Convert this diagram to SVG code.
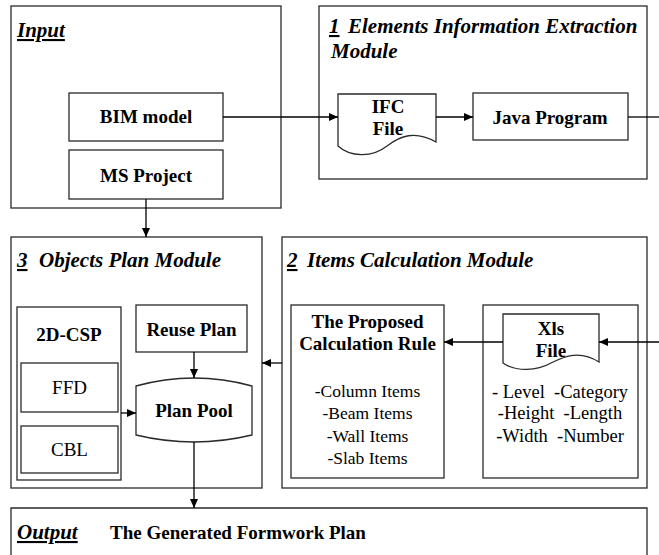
<svg xmlns="http://www.w3.org/2000/svg" width="659" height="555" viewBox="0 0 659 555">
<defs>
<style>
.box{fill:#fff;stroke:#2a2a2a;stroke-width:1.3}
.ln{fill:none;stroke:#000;stroke-width:1.3}
text{fill:#000}
.title{font-size:21px;font-weight:bold;font-style:italic}
.num{text-decoration:underline}
.b{font-size:19px;font-weight:bold;text-anchor:middle}
.r{font-size:17.5px;text-anchor:middle}
.rl{font-size:19px;text-anchor:middle}
.rx{font-size:18.5px;text-anchor:middle}
</style>
<marker id="arr" markerWidth="10" markerHeight="10" refX="9" refY="4" orient="auto" markerUnits="userSpaceOnUse"><path d="M0,0 L9,4 L0,8 z" fill="#000"/></marker>
</defs>
<rect width="659" height="555" fill="#fff"/>
<g font-family="Liberation Serif, DejaVu Serif, serif">
<g id="input">
<rect class="box" x="11" y="6" width="270" height="202"/>
<text class="title num" x="17" y="37">Input</text>
</g>
<g id="bim-model">
<rect class="box" x="69" y="93" width="154" height="48"/>
<text class="b" x="146" y="123">BIM model</text>
</g>
<g id="ms-project">
<rect class="box" x="69" y="150" width="154" height="49"/>
<text class="b" x="146" y="182">MS Project</text>
</g>

<g id="module1">
<rect class="box" x="319" y="6" width="328" height="173"/>
<text class="title num" x="329" y="33">1</text>
<text class="title" x="348" y="33">Elements Information Extraction</text>
<text class="title" x="331" y="58">Module</text>
</g>
<g id="ifc-file">
<path class="box" d="M338,94 H436 V142 C415,130 400,136 387,146 C372,158 350,157 338,146 Z"/>
<text class="b" x="388" y="113">IFC</text>
<text class="b" x="388" y="135">File</text>
</g>
<g id="java-program">
<rect class="box" x="473" y="93" width="155" height="47"/>
<text class="b" x="550" y="124">Java Program</text>
</g>

<g id="module3">
<rect class="box" x="11" y="237" width="251" height="251"/>
<text class="title num" x="17" y="267">3</text>
<text class="title" x="39" y="267">Objects Plan Module</text>
</g>
<g id="csp2d">
<rect class="box" x="17" y="307" width="104" height="173"/>
<text class="b" x="69" y="341">2D-CSP</text>
</g>
<g id="ffd">
<rect class="box" x="21" y="363" width="97" height="49"/>
<text class="rl" x="69.5" y="394">FFD</text>
</g>
<g id="cbl">
<rect class="box" x="21" y="426" width="97" height="47"/>
<text class="rl" x="69.5" y="456">CBL</text>
</g>
<g id="reuse-plan">
<rect class="box" x="136" y="305" width="111" height="47"/>
<text class="b" x="191.5" y="336">Reuse Plan</text>
</g>
<g id="plan-pool">
<path class="box" d="M136,386 Q194,370 252,386 L252,435 Q194,449 136,435 Z"/>
<text class="b" x="194" y="417">Plan Pool</text>
</g>

<g id="module2">
<rect class="box" x="282" y="237" width="365" height="251"/>
<text class="title num" x="287" y="267">2</text>
<text class="title" x="307" y="267">Items Calculation Module</text>
</g>
<g id="calc-rule">
<rect class="box" x="291" y="305" width="153" height="173"/>
<text class="b" x="367.5" y="328">The Proposed</text>
<text class="b" x="367.5" y="350">Calculation Rule</text>
<text class="r" x="367.5" y="397">-Column Items</text>
<text class="r" x="367.5" y="419">-Beam Items</text>
<text class="r" x="367.5" y="442">-Wall Items</text>
<text class="r" x="367.5" y="464">-Slab Items</text>
</g>
<g id="xls-group">
<rect class="box" x="483" y="305" width="155" height="173"/>
<text class="rx" x="560" y="398" xml:space="preserve">- Level  -Category</text>
<text class="rx" x="560" y="419" xml:space="preserve">-Height  -Length</text>
<text class="rx" x="560" y="442" xml:space="preserve">-Width  -Number</text>
</g>
<g id="xls-file">
<path class="box" d="M503,314 H599 V362 C580,350 565,356 551,363 C537,371 516,372 503,363 Z"/>
<text class="b" x="551" y="335">Xls</text>
<text class="b" x="551" y="357">File</text>
</g>

<g id="output">
<path class="box" d="M11,556 V508 H647 V556"/>
<text class="title num" x="17" y="539">Output</text>
<text x="110" y="539" font-size="19" font-weight="bold">The Generated Formwork Plan</text>
</g>
</g>
<g id="connectors">
<line class="ln" x1="223" y1="117" x2="338" y2="117" marker-end="url(#arr)"/>
<line class="ln" x1="436" y1="117" x2="473" y2="117" marker-end="url(#arr)"/>
<line class="ln" x1="628" y1="117" x2="660" y2="117"/>
<line class="ln" x1="660" y1="342" x2="599" y2="342" marker-end="url(#arr)"/>
<line class="ln" x1="503" y1="342" x2="444" y2="342" marker-end="url(#arr)"/>
<line class="ln" x1="282" y1="363" x2="262" y2="363" marker-end="url(#arr)"/>
<line class="ln" x1="146" y1="199" x2="146" y2="237" marker-end="url(#arr)"/>
<line class="ln" x1="194" y1="352" x2="194" y2="378" marker-end="url(#arr)"/>
<line class="ln" x1="121" y1="413" x2="136" y2="413" marker-end="url(#arr)"/>
<line class="ln" x1="194" y1="442" x2="194" y2="508" marker-end="url(#arr)"/>
</g>
</svg>
